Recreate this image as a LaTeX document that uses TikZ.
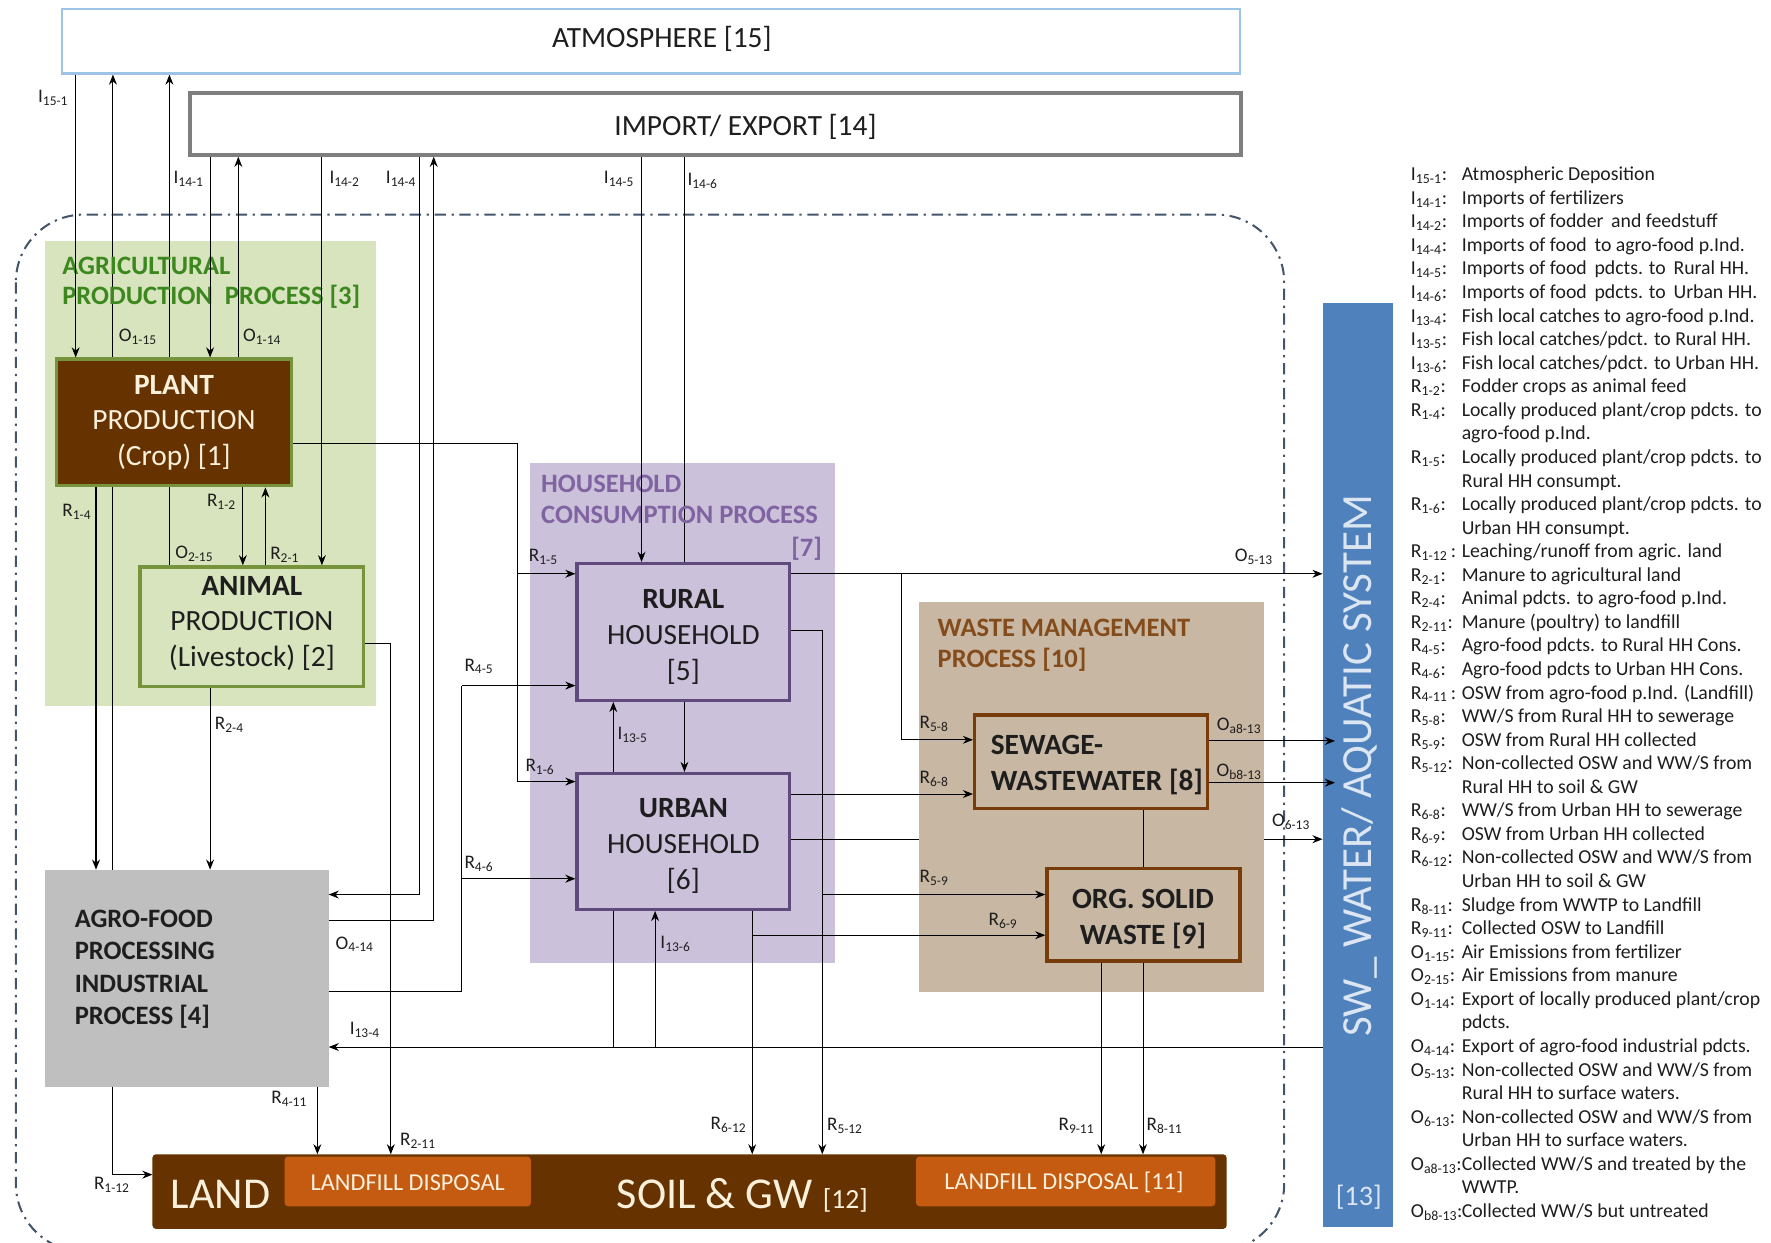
\documentclass[tikz,border=0pt]{standalone}
\usepackage{fontspec}
\setmainfont{Carlito}
\usetikzlibrary{arrows.meta}
\pgfdeclarelayer{regions}
\pgfdeclarelayer{deep}
\pgfdeclarelayer{regions2}
\pgfdeclarelayer{behind}
\pgfsetlayers{regions,deep,regions2,behind,main}
\definecolor{atmB}{RGB}{157,195,230}
\definecolor{impB}{RGB}{127,127,127}
\definecolor{agrF}{RGB}{215,228,189}
\definecolor{agrT}{RGB}{60,135,30}
\definecolor{grnB}{RGB}{119,147,60}
\definecolor{brownF}{RGB}{102,51,0}
\definecolor{cream}{RGB}{250,240,220}
\definecolor{agroF}{RGB}{191,191,191}
\definecolor{hhF}{RGB}{204,193,218}
\definecolor{hhT}{RGB}{128,100,162}
\definecolor{hhB}{RGB}{96,74,123}
\definecolor{wmF}{RGB}{200,183,163}
\definecolor{wmT}{RGB}{132,76,27}
\definecolor{wmB}{RGB}{120,60,10}
\definecolor{lfF}{RGB}{197,90,17}
\definecolor{swF}{RGB}{79,129,189}
\definecolor{swT}{RGB}{220,230,242}
\definecolor{bnd}{RGB}{68,84,106}
\definecolor{txt}{RGB}{30,30,30}
\newcommand{\fl}[2]{#1\textsubscript{#2}}
\newcommand{\leg}[4]{\node[legl] (#1a) at (1249,{160+20.86*(#2-1)}) {#3};\node[legl] (#1b) at (1294,{160+20.86*(#2-1)}) {#4};}
\newcommand{\legc}[3]{\node[legl] (#1b) at (1294,{160+20.86*(#2-1)}) {#3};}
\begin{document}
\begin{tikzpicture}[x=1pt,y=-1pt,
  ln/.style={line width=0.9pt, draw=black},
  arr/.style={ln, -{Stealth[length=9pt,width=7pt]}},
  lab/.style={font=\fontsize{17}{19}\selectfont, text=txt, inner sep=0pt},
  legl/.style={anchor=base west, font=\fontsize{17.5}{19}\selectfont, text=txt, inner sep=0pt},
  region/.style={inner sep=0pt, outer sep=0pt},
  gbox/.style={draw=grnB, line width=3pt, inner sep=0pt},
  hbox/.style={draw=hhB, fill=hhF, line width=3pt, inner sep=0pt},
  wbox/.style={draw=wmB, fill=wmF, line width=3pt, inner sep=0pt},
  btxt/.style={font=\fontsize{26}{31.5}\selectfont, text=txt, align=center, inner sep=0pt},
  ttl/.style={font=\bfseries\fontsize{23.5}{28}\selectfont, align=left, inner sep=0pt, anchor=west}]
\useasboundingbox (0,0) rectangle (1568,1100);

% ---------- regions ----------
\begin{pgfonlayer}{regions}
  \begin{scope}
    \clip (0,0) rectangle (1568,1100);
    \draw[bnd, line width=1.8pt, dash pattern=on 10pt off 5pt on 2pt off 5pt, rounded corners=60pt]
      (14,190) rectangle (1137,1108);
  \end{scope}
  \node[region, fill=agrF, minimum width=293, minimum height=412] (agr) at (186.5,419) {};
  \node[region, fill=hhF, minimum width=270, minimum height=443] (hh) at (604,631.5) {};
\end{pgfonlayer}
\begin{pgfonlayer}{regions2}
  \node[region, fill=wmF, minimum width=305, minimum height=345] (wm) at (966.5,705.5) {};
\end{pgfonlayer}

% ---------- boxes ----------
\node[draw=atmB, fill=white, line width=2pt, minimum width=1043, minimum height=57] (atm) at (576.5,36.5) {};
\node[font=\fontsize{26}{30}\selectfont, text=txt] (atmT) at (586,34) {ATMOSPHERE [15]};
\node[draw=impB, fill=white, line width=3.5pt, minimum width=931, minimum height=55] (imp) at (633.5,109.5) {};
\node[font=\fontsize{26}{30}\selectfont, text=txt] (impT) at (660,112) {IMPORT/ EXPORT [14]};

\node[gbox, fill=brownF, minimum width=208, minimum height=112] (plant) at (154,374) {};
\node[btxt, text=cream] (plantT) at (154,374) {\textbf{PLANT}\\PRODUCTION\\(Crop) [1]};
\node[gbox, fill=agrF, minimum width=198, minimum height=106] (animal) at (223,555) {};
\node[btxt] (animalT) at (223,552) {\textbf{ANIMAL}\\PRODUCTION\\(Livestock) [2]};
\node[region, fill=agroF, minimum width=251, minimum height=192] (agro) at (165.5,866) {};
\node[font=\bfseries\fontsize{23.5}{28.7}\selectfont, text=txt, align=left, inner sep=0pt, anchor=west] (agroT) at (66,858)
  {AGRO-FOOD\\PROCESSING\\INDUSTRIAL\\PROCESS [4]};

\node[hbox, minimum width=188, minimum height=121] (rural) at (605,559.5) {};
\node[btxt] (ruralT) at (605,564) {\textbf{RURAL}\\HOUSEHOLD\\{[5]}};
\node[hbox, minimum width=188, minimum height=120] (urban) at (605,745) {};
\node[btxt] (urbanT) at (605,749) {\textbf{URBAN}\\HOUSEHOLD\\{[6]}};

\node[wbox, minimum width=206, minimum height=83] (sewage) at (966,674.5) {};
\node[font=\bfseries\fontsize{26}{32}\selectfont, text=txt, align=left, inner sep=0pt, anchor=west] (sewageT) at (877,677) {SEWAGE-\\WASTEWATER [8]};
\node[wbox, minimum width=171, minimum height=82] (osw) at (1012.5,810) {};
\node[font=\bfseries\fontsize{26}{32}\selectfont, text=txt, align=center, inner sep=0pt] (oswT) at (1012,814) {ORG. SOLID\\WASTE [9]};

\node[region, fill=brownF, rounded corners=3pt, minimum width=951, minimum height=66] (land) at (610.5,1055) {};
\node[region, fill=lfF, rounded corners=3pt, minimum width=218, minimum height=44] (lf1) at (361,1046) {};
\node[region, fill=lfF, rounded corners=3pt, minimum width=265, minimum height=44] (lf2) at (943.5,1046) {};
\node[font=\fontsize{39}{44}\selectfont, text=cream, inner sep=0pt, anchor=base west] (landT) at (151,1070) {LAND};
\node[font=\fontsize{21.5}{25}\selectfont, text=cream] (lf1T) at (361,1047) {LANDFILL DISPOSAL};
\node[text=cream, inner sep=0pt, anchor=base west] (soilT) at (546,1070) {{\fontsize{39}{44}\selectfont SOIL \& GW}\hspace{9pt}{\fontsize{24.5}{28}\selectfont [12]}};
\node[font=\fontsize{21.5}{25}\selectfont, text=cream] (lf2T) at (942,1047) {LANDFILL DISPOSAL [11]};

\node[region, fill=swF, minimum width=62, minimum height=818] (sw) at (1202,677) {};
\node[font=\fontsize{38}{42}\selectfont, text=swT, rotate=90] (swT) at (1204,678) {SW\_ WATER/ AQUATIC SYSTEM};
\node[font=\fontsize{25}{29}\selectfont, text=swT] (sw13) at (1203,1060) {[13]};

% ---------- region titles ----------
\node[ttl, text=agrT] (agrT1) at (55,235) {AGRICULTURAL};
\node[ttl, text=agrT] (agrT2) at (55,263) {PRODUCTION\ \ PROCESS [3]};
\node[ttl, text=hhT] (hhT1) at (479,428) {HOUSEHOLD};
\node[ttl, text=hhT] (hhT2) at (479,456) {CONSUMPTION PROCESS};
\node[ttl, text=hhT, anchor=east] (hhT3) at (728,486) {[7]};
\node[ttl, text=wmT] (wmT1) at (830,556) {WASTE MANAGEMENT};
\node[ttl, text=wmT] (wmT2) at (830,584) {PROCESS [10]};

% ---------- hidden lines (behind boxes) ----------
\begin{pgfonlayer}{behind}
  \draw[arr] (100,0 |- agro.north) -- (100,0 |- atm.south);
  \draw[arr] (150,0 |- animal.north) -- (150,0 |- atm.south);
  \draw[arr] (606,0 |- imp.south) -- (606,0 |- urban.north);
  \draw[arr] (543,927) -- (543,0 |- rural.south);
  \draw[arr] (1012,0 |- sewage.south) -- (1012,0 |- land.north);
\end{pgfonlayer}
\begin{pgfonlayer}{deep}
  \draw[arr] (urban.east |- 0,743) -- (sw.west |- 0,743);
\end{pgfonlayer}

% ---------- connectors ----------
\draw[arr] (67,0 |- atm.south) -- (67,0 |- plant.north);
\draw[arr] (186,0 |- imp.south) -- (186,0 |- plant.north);
\draw[arr] (211,0 |- plant.north) -- (211,0 |- imp.south);
\draw[arr] (285,0 |- imp.south) -- (285,0 |- animal.north);
\draw[arr] (371,0 |- imp.south) |- (agro.east |- 0,792);
\draw[arr] (agro.east |- 0,815) -| (384,0 |- imp.south);
\draw[arr] (568,0 |- imp.south) -- (568,0 |- rural.north);

\draw[ln] (plant.east |- 0,393) -| (458,692);
\draw[arr] (458,508) -- (rural.west |- 0,508);
\draw[arr] (458,692) -- (urban.west |- 0,692);

\draw[arr] (85,0 |- plant.south) -- (85,0 |- agro.north);
\draw[arr] (215,0 |- plant.south) -- (215,0 |- animal.north);
\draw[arr] (235,0 |- animal.north) -- (235,0 |- plant.south);
\draw[arr] (186,0 |- animal.south) -- (186,0 |- agro.north);
\draw[arr] (animal.east |- 0,570) -| (346,0 |- land.north);
\draw[arr] (281,0 |- agro.south) -- (281,0 |- land.north);
\draw[arr] (100,0 |- agro.south) |- (land.west |- 0,1040);

\draw[ln] (agro.east |- 0,878) -| (409,607);
\draw[arr] (409,607) -- (rural.west |- 0,607);
\draw[arr] (409,778) -- (urban.west |- 0,778);

\draw[arr] (sw.west |- 0,927) -- (agro.east |- 0,927);
\draw[arr] (580,927) -- (580,0 |- urban.south);

\draw[arr] (rural.east |- 0,508) -- (sw.west |- 0,508);
\draw[arr] (798,508) |- (sewage.west |- 0,655);
\draw[arr] (rural.east |- 0,558) -| (728,0 |- land.north);
\draw[arr] (728,792) -- (osw.west |- 0,792);
\draw[arr] (urban.east |- 0,703) -- (sewage.west |- 0,703);
\draw[arr] (666,0 |- urban.south) -- (666,0 |- land.north);
\draw[arr] (666,828) -- (osw.west |- 0,828);
\draw[arr] (975,0 |- osw.south) -- (975,0 |- land.north);
\draw[arr] (sewage.east |- 0,656) -- (1182,656);
\draw[arr] (sewage.east |- 0,693) -- (1182,693);

% ---------- flow labels ----------
\node[lab] (l1) at (47,87) {\fl{I}{15-1}};
\node[lab] (l2) at (122,298) {\fl{O}{1-15}};
\node[lab] (l3) at (167,158) {\fl{I}{14-1}};
\node[lab] (l4) at (232,298) {\fl{O}{1-14}};
\node[lab] (l5) at (305,158) {\fl{I}{14-2}};
\node[lab] (l6) at (355,158) {\fl{I}{14-4}};
\node[lab] (l7) at (548,158) {\fl{I}{14-5}};
\node[lab] (l8) at (622,160) {\fl{I}{14-6}};
\node[lab] (l9) at (68,453) {\fl{R}{1-4}};
\node[lab] (l10) at (196,444) {\fl{R}{1-2}};
\node[lab] (l11) at (172,490) {\fl{O}{2-15}};
\node[lab] (l12) at (252,491) {\fl{R}{2-1}};
\node[lab] (l13) at (203,642) {\fl{R}{2-4}};
\node[lab] (l14) at (424,590) {\fl{R}{4-5}};
\node[lab] (l15) at (424,765) {\fl{R}{4-6}};
\node[lab] (l16) at (481,493) {\fl{R}{1-5}};
\node[lab] (l17) at (478,679) {\fl{R}{1-6}};
\node[lab] (l18) at (560,651) {\fl{I}{13-5}};
\node[lab] (l19) at (314,836) {\fl{O}{4-14}};
\node[lab] (l20) at (323,912) {\fl{I}{13-4}};
\node[lab] (l21) at (598,836) {\fl{I}{13-6}};
\node[lab] (l22) at (256,973) {\fl{R}{4-11}};
\node[lab] (l23) at (370,1010) {\fl{R}{2-11}};
\node[lab] (l24) at (99,1049) {\fl{R}{1-12}};
\node[lab] (l25) at (645,996) {\fl{R}{6-12}};
\node[lab] (l26) at (748,997) {\fl{R}{5-12}};
\node[lab] (l27) at (953,997) {\fl{R}{9-11}};
\node[lab] (l28) at (1031,997) {\fl{R}{8-11}};
\node[lab] (l29) at (1110,493) {\fl{O}{5-13}};
\node[lab] (l30) at (827,641) {\fl{R}{5-8}};
\node[lab] (l31) at (827,690) {\fl{R}{6-8}};
\node[lab] (l32) at (827,777) {\fl{R}{5-9}};
\node[lab] (l33) at (888,815) {\fl{R}{6-9}};
\node[lab] (l34) at (1097,643) {\fl{O}{a8-13}};
\node[lab] (l35) at (1097,683) {\fl{O}{b8-13}};
\node[lab] (l36) at (1143,728) {\fl{O}{6-13}};

% ---------- legend ----------
\leg{g1}{1}{\fl{I}{15-1}:}{Atmospheric Deposition}
\leg{g2}{2}{\fl{I}{14-1}:}{Imports of fertilizers}
\leg{g3}{3}{\fl{I}{14-2}:}{Imports of fodder\, and feedstuff}
\leg{g4}{4}{\fl{I}{14-4}:}{Imports of food\, to agro-food p.Ind.}
\leg{g5}{5}{\fl{I}{14-5}:}{Imports of food\, pdcts. to\, Rural HH.}
\leg{g6}{6}{\fl{I}{14-6}:}{Imports of food\, pdcts. to\, Urban HH.}
\leg{g7}{7}{\fl{I}{13-4}:}{Fish local catches to agro-food p.Ind.}
\leg{g8}{8}{\fl{I}{13-5}:}{Fish local catches/pdct. to Rural HH.}
\leg{g9}{9}{\fl{I}{13-6}:}{Fish local catches/pdct. to Urban HH.}
\leg{g10}{10}{\fl{R}{1-2}:}{Fodder crops as animal feed}
\leg{g11}{11}{\fl{R}{1-4}:}{Locally produced plant/crop pdcts. to}
\legc{g12}{12}{agro-food p.Ind.}
\leg{g13}{13}{\fl{R}{1-5}:}{Locally produced plant/crop pdcts. to}
\legc{g14}{14}{Rural HH consumpt.}
\leg{g15}{15}{\fl{R}{1-6}:}{Locally produced plant/crop pdcts. to}
\legc{g16}{16}{Urban HH consumpt.}
\leg{g17}{17}{\fl{R}{1-12}\,:}{Leaching/runoff from agric. land}
\leg{g18}{18}{\fl{R}{2-1}:}{Manure to agricultural land}
\leg{g19}{19}{\fl{R}{2-4}:}{Animal pdcts. to agro-food p.Ind.}
\leg{g20}{20}{\fl{R}{2-11}:}{Manure (poultry) to landfill}
\leg{g21}{21}{\fl{R}{4-5}:}{Agro-food pdcts. to Rural HH Cons.}
\leg{g22}{22}{\fl{R}{4-6}:}{Agro-food pdcts to Urban HH Cons.}
\leg{g23}{23}{\fl{R}{4-11}\,:}{OSW from agro-food p.Ind. (Landfill)}
\leg{g24}{24}{\fl{R}{5-8}:}{WW/S from Rural HH to sewerage}
\leg{g25}{25}{\fl{R}{5-9}:}{OSW from Rural HH collected}
\leg{g26}{26}{\fl{R}{5-12}:}{Non-collected OSW and WW/S from}
\legc{g27}{27}{Rural HH to soil \& GW}
\leg{g28}{28}{\fl{R}{6-8}:}{WW/S from Urban HH to sewerage}
\leg{g29}{29}{\fl{R}{6-9}:}{OSW from Urban HH collected}
\leg{g30}{30}{\fl{R}{6-12}:}{Non-collected OSW and WW/S from}
\legc{g31}{31}{Urban HH to soil \& GW}
\leg{g32}{32}{\fl{R}{8-11}:}{Sludge from WWTP to Landfill}
\leg{g33}{33}{\fl{R}{9-11}:}{Collected OSW to Landfill}
\leg{g34}{34}{\fl{O}{1-15}:}{Air Emissions from fertilizer}
\leg{g35}{35}{\fl{O}{2-15}:}{Air Emissions from manure}
\leg{g36}{36}{\fl{O}{1-14}:}{Export of locally produced plant/crop}
\legc{g37}{37}{pdcts.}
\leg{g38}{38}{\fl{O}{4-14}:}{Export of agro-food industrial pdcts.}
\leg{g39}{39}{\fl{O}{5-13}:}{Non-collected OSW and WW/S from}
\legc{g40}{40}{Rural HH to surface waters.}
\leg{g41}{41}{\fl{O}{6-13}:}{Non-collected OSW and WW/S from}
\legc{g42}{42}{Urban HH to surface waters.}
\leg{g43}{43}{\fl{O}{a8-13}:}{Collected WW/S and treated by the}
\legc{g44}{44}{WWTP.}
\leg{g45}{45}{\fl{O}{b8-13}:}{Collected WW/S but untreated}
\end{tikzpicture}
\end{document}
